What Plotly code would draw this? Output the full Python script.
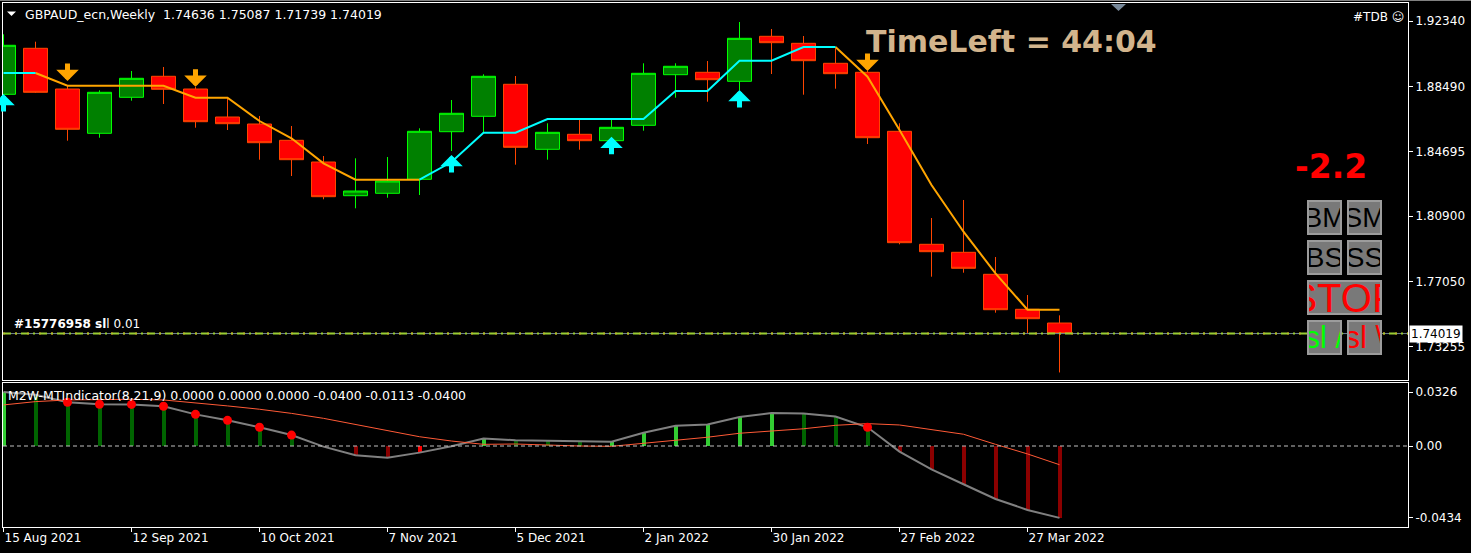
import pandas as pd
import plotly.graph_objects as go

W, H = 1471, 553
FONT = "DejaVu Sans"

# ---------------- data ----------------
header_text = "GBPAUD_ecn,Weekly  1.74636 1.75087 1.71739 1.74019"
indicator_text = "M2W-MTIndicator(8,21,9) 0.0000 0.0000 0.0000 -0.0400 -0.0113 -0.0400"
order_text = "<b>#15776958 sl</b>l 0.01"
dates = pd.date_range("2021-08-15", periods=34, freq="7D")

opens = [1.88043, 1.90740, 1.88354, 1.85757, 1.87868, 1.89099, 1.88354, 1.86713, 1.86302, 1.85347,
         1.84075, 1.82100, 1.82240, 1.83061, 1.85851, 1.86754, 1.88630, 1.84819, 1.85699, 1.85324,
         1.86226, 1.89192, 1.89333, 1.88805, 1.91443, 1.91033, 1.89860, 1.89333, 1.85874, 1.79251,
         1.78782, 1.77492, 1.75440, 1.74636]
highs = [1.91560, 1.91127, 1.88589, 1.88278, 1.89409, 1.89644, 1.88471, 1.87844, 1.86771, 1.86185,
         1.84427, 1.84292, 1.84368, 1.86050, 1.87709, 1.89216, 1.89116, 1.86343, 1.86537, 1.86537,
         1.89860, 1.89860, 1.89995, 1.92281, 1.91871, 1.91461, 1.90740, 1.89409, 1.86343, 1.80792,
         1.81848, 1.78506, 1.76279, 1.75087]
lows = [1.87826, 1.88120, 1.85324, 1.85499, 1.87668, 1.87475, 1.86086, 1.85951, 1.84210, 1.83254,
        1.81889, 1.81361, 1.81982, 1.82140, 1.84720, 1.85792, 1.83917, 1.84210, 1.84796, 1.85247,
        1.85910, 1.87844, 1.87610, 1.88295, 1.89233, 1.88020, 1.88372, 1.85130, 1.79251, 1.77352,
        1.77586, 1.75242, 1.74034, 1.71739]
closes = [1.90916, 1.88160, 1.85992, 1.88160, 1.88981, 1.88336, 1.86437, 1.86320, 1.85206, 1.84210,
          1.82041, 1.82375, 1.82961, 1.85874, 1.86930, 1.89099, 1.84937, 1.85816, 1.85324, 1.86109,
          1.89274, 1.89685, 1.88899, 1.91326, 1.91068, 1.90013, 1.89251, 1.85499, 1.79345, 1.78817,
          1.77844, 1.75417, 1.74890, 1.74019]

trend = [1.89292, 1.89292, 1.88547, 1.88547, 1.88547, 1.88547, 1.87844, 1.87844, 1.86478, 1.85464,
         1.83999, 1.83037, 1.83037, 1.83037, 1.84075, 1.85792, 1.85792, 1.86596, 1.86596, 1.86596,
         1.86596, 1.88237, 1.88237, 1.90013, 1.90013, 1.90816, 1.90816, 1.89075, 1.85951, 1.82727,
         1.79989, 1.77551, 1.75417, 1.75417]
trend_up = [1, 1, 0, 0, 0, 0, 0, 0, 0, 0, 0, 0, 0, 0, 1, 1, 1, 1, 1, 1,
            1, 1, 1, 1, 1, 1, 1, 0, 0, 0, 0, 0, 0, 0]

up_arrow_bars = [0, 14, 19, 23]
up_arrow_price = [1.88061, 1.84485, 1.85558, 1.88295]
down_arrow_bars = [2, 6, 27]
down_arrow_price = [1.88823, 1.88489, 1.89409]

hist = [0.0326, 0.0310, 0.0264, 0.0252, 0.0251, 0.0240, 0.0191, 0.0155, 0.0113, 0.0066,
        -0.0004, -0.0056, -0.0071, -0.0040, -0.0001, 0.0045, 0.0035, 0.0032, 0.0025, 0.0026,
        0.0080, 0.0122, 0.0130, 0.0175, 0.0199, 0.0197, 0.0178, 0.0113, -0.0034, -0.0141,
        -0.0231, -0.0320, -0.0386, -0.0434]
signal = [0.0248, 0.0268, 0.0278, 0.0282, 0.0282, 0.0278, 0.0261, 0.0242, 0.0222, 0.0197,
          0.0167, 0.0131, 0.0092, 0.0056, 0.0030, 0.0010, 0.0012, 0.0004, 0.0000, -0.0002,
          0.0016, 0.0036, 0.0053, 0.0077, 0.0091, 0.0104, 0.0125, 0.0135, 0.0127, 0.0101,
          0.0071, 0.0010, -0.0048, -0.0113]
dot_bars = [2, 3, 4, 5, 6, 7, 8, 9, 27]

price_ticks = [1.92340, 1.88490, 1.84695, 1.80900, 1.77050, 1.73255]
price_tick_text = ["1.92340", "1.88490", "1.84695", "1.80900", "1.77050", "1.73255"]
date_tick_labels = ["15 Aug 2021", "12 Sep 2021", "10 Oct 2021", "7 Nov 2021", "5 Dec 2021",
                    "2 Jan 2022", "30 Jan 2022", "27 Feb 2022", "27 Mar 2022"]
ind_ticks = [max(hist), 0.0, min(hist)]
ind_tick_text = ["0.0326", "0.00", "-0.0434"]

# ---------------- geometry helpers ----------------
def fx(px):
    return px / W

def fy(py):
    return 1 - py / H

week = pd.Timedelta(days=7)
x_left = dates[0] - week * (0.5 / 32)
x_right = dates[0] + week * ((1408 - 3.5) / 32)
main_range = [1.92340 - (380 - 21) / 1706, 1.92340 + (21 - 3) / 1706]
ind_range = [-(527 - 446) / 1656, (446 - 383) / 1656]

fig = go.Figure()

# candles
fig.add_trace(go.Candlestick(
    x=dates, open=opens, high=highs, low=lows, close=closes,
    increasing=dict(line=dict(color="#00FF00", width=1), fillcolor="#008000"),
    decreasing=dict(line=dict(color="#FF4500", width=1), fillcolor="#FF0000"),
    whiskerwidth=0, xaxis="x", yaxis="y", hoverinfo="skip"))

# trend line, split by direction
n = len(trend)
cyan_y, orange_y = [], []
for i in range(n):
    nxt = trend_up[i + 1] if i + 1 < n else trend_up[i]
    cyan_y.append(trend[i] if (trend_up[i] or nxt) else None)
    orange_y.append(trend[i] if ((not trend_up[i]) or (not nxt)) else None)
fig.add_trace(go.Scatter(x=dates, y=orange_y, mode="lines", line=dict(color="#FFA500", width=2),
                         connectgaps=False, xaxis="x", yaxis="y", hoverinfo="skip"))
fig.add_trace(go.Scatter(x=dates, y=cyan_y, mode="lines", line=dict(color="#00FFFF", width=2),
                         connectgaps=False, xaxis="x", yaxis="y", hoverinfo="skip"))

# indicator histogram
bar_colors = []
for i, v in enumerate(hist):
    rising = True if i == 0 else v > hist[i - 1]
    if v >= 0:
        bar_colors.append("#32CD32" if rising else "#006400")
    else:
        bar_colors.append("#FF0000" if rising else "#8B0000")
bar_w = 7 * 24 * 3600 * 1000 * (4 / 32)
fig.add_trace(go.Bar(x=dates, y=hist, marker=dict(color=bar_colors, line=dict(width=0)),
                     width=[bar_w] * n, xaxis="x2", yaxis="y2", hoverinfo="skip"))
fig.add_trace(go.Scatter(x=dates, y=hist, mode="lines", line=dict(color="#808080", width=2),
                         xaxis="x2", yaxis="y2", hoverinfo="skip"))
fig.add_trace(go.Scatter(x=dates, y=signal, mode="lines", line=dict(color="#FF5A36", width=1),
                         xaxis="x2", yaxis="y2", hoverinfo="skip"))
fig.add_trace(go.Scatter(x=[dates[i] for i in dot_bars], y=[hist[i] for i in dot_bars],
                         mode="markers", marker=dict(color="#FF0000", size=9),
                         xaxis="x2", yaxis="y2", hoverinfo="skip"))

annotations = []
# signal arrows
for b, p in zip(up_arrow_bars, up_arrow_price):
    annotations.append(dict(x=dates[b], y=p, xref="x", yref="y", ax=0, ay=19, text="",
                            showarrow=True, arrowhead=1, arrowwidth=5, arrowsize=0.75,
                            arrowcolor="#00FFFF"))
for b, p in zip(down_arrow_bars, down_arrow_price):
    annotations.append(dict(x=dates[b], y=p, xref="x", yref="y", ax=0, ay=-19, text="",
                            showarrow=True, arrowhead=1, arrowwidth=5, arrowsize=0.75,
                            arrowcolor="#FFA500"))

def text_ann(txt, x, y, size=12, color="white", anchor="left", bold=False, yanchor="middle"):
    return dict(text=txt, x=fx(x), y=fy(y), xref="paper", yref="paper", showarrow=False,
                xanchor=anchor, yanchor=yanchor,
                font=dict(family=FONT, size=size, color=color,
                          weight="bold" if bold else "normal"))

annotations.append(text_ann(header_text, 23, 15, size=12.5))
annotations.append(text_ann(indicator_text, 6, 395, size=12.5))
annotations.append(text_ann("#TDB \u263a", 1406, 17, anchor="right"))
annotations.append(text_ann("TimeLeft = 44:04", 864, 42, size=30, color="#D2B48C", bold=True))
annotations.append(text_ann("-2.2", 1331, 166, size=33, color="#FF0000", anchor="center", bold=True))
annotations.append(text_ann(order_text, 12, 324))

# current price label
annotations.append(dict(text=f"{closes[-1]:.5f}", x=fx(1409), y=closes[-1], xref="paper", yref="y",
                        xanchor="left", yanchor="middle", showarrow=False, bgcolor="white",
                        borderpad=1, font=dict(family=FONT, size=12, color="black")))

# buttons
def button(txt, cx, cy, w, h, color, size):
    return dict(text=txt, x=fx(cx), y=fy(cy), xref="paper", yref="paper", showarrow=False,
                xanchor="center", yanchor="middle", width=w - 4, height=h - 4,
                bgcolor="#797979", bordercolor="#9C9C9C", borderwidth=2, borderpad=0,
                font=dict(family="Liberation Sans", size=size, color=color))

annotations += [
    button("BM", 1324.5, 217.5, 35, 35, "black", 28),
    button("SM", 1364.5, 217.5, 35, 35, "black", 28),
    button("BS", 1324.5, 257.5, 35, 35, "black", 28),
    button("SS", 1364.5, 257.5, 35, 35, "black", 28),
    button("STOP", 1344.5, 297.5, 75, 35, "#FF0000", 40),
    button("sl /", 1324.5, 337.5, 35, 35, "#00FF00", 31),
    button("sl \\", 1364.5, 337.5, 35, 35, "#FF0000", 31),
]

shapes = [
    # current price line
    dict(type="line", xref="paper", yref="y", x0=fx(3), x1=fx(1408), y0=closes[-1], y1=closes[-1],
         line=dict(color="#708090", width=1)),
    dict(type="line", xref="paper", yref="y", x0=fx(3), x1=fx(1408), y0=closes[-1], y1=closes[-1],
         line=dict(color="#FF4500", width=2, dash="2px,10px")),
    dict(type="line", xref="paper", yref="y", x0=fx(3), x1=fx(1408), y0=closes[-1], y1=closes[-1],
         line=dict(color="#9ACD32", width=2, dash="8px,4px,2px,4px")),
    # indicator zero level
    dict(type="line", xref="paper", yref="y2", x0=fx(3), x1=fx(1408), y0=0, y1=0,
         line=dict(color="#C0C0C0", width=1, dash="4px,3px")),
    # window top line
    dict(type="line", xref="paper", yref="paper", x0=0, x1=1, y0=fy(0.5), y1=fy(0.5),
         line=dict(color="#808080", width=1)),
    # header menu triangle
    dict(type="path", xref="paper", yref="paper",
         path=f"M {fx(7)},{fy(11.5)} L {fx(16)},{fy(11.5)} L {fx(11.5)},{fy(16)} Z",
         fillcolor="white", line=dict(width=0)),
    # chart shift marker
    dict(type="path", xref="paper", yref="paper",
         path=f"M {fx(1111)},{fy(4)} L {fx(1126)},{fy(4)} L {fx(1118.5)},{fy(11)} Z",
         fillcolor="#778899", line=dict(width=0)),
]

axis_common = dict(showgrid=False, zeroline=False, showline=True, linecolor="white", linewidth=1,
                   mirror=True)
fig.update_layout(
    width=W, height=H, autosize=False,
    margin=dict(l=0, r=0, t=0, b=0),
    paper_bgcolor="black", plot_bgcolor="black",
    showlegend=False, boxgap=0.25, boxgroupgap=0, bargap=0,
    font=dict(family=FONT, size=12, color="white"),
    xaxis=dict(domain=[fx(3), fx(1408)], anchor="y", range=[x_left, x_right],
               showticklabels=False, ticks="", rangeslider=dict(visible=False), **axis_common),
    xaxis2=dict(domain=[fx(3), fx(1408)], anchor="y2", range=[x_left, x_right],
                tickvals=list(dates[::4]), ticktext=date_tick_labels, ticks="outside", ticklen=4,
                tickcolor="white", ticklabelposition="outside right",
                tickfont=dict(family=FONT, size=12, color="white"),
                rangeslider=dict(visible=False), **axis_common),
    yaxis=dict(domain=[fy(380), fy(3)], anchor="x", side="right", range=main_range,
               tickvals=price_ticks, ticktext=price_tick_text, ticks="outside", ticklen=4,
               tickcolor="white", tickfont=dict(family=FONT, size=12, color="white"), **axis_common),
    yaxis2=dict(domain=[fy(527), fy(383)], anchor="x2", side="right", range=ind_range,
                tickvals=ind_ticks, ticktext=ind_tick_text, ticks="outside", ticklen=4,
                tickcolor="white", tickfont=dict(family=FONT, size=12, color="white"), **axis_common),
    annotations=annotations,
    shapes=shapes,
)

fig.write_html("out.html", config={"displayModeBar": False},
               post_script="document.body.style.margin='0px';document.body.style.background='black';")
